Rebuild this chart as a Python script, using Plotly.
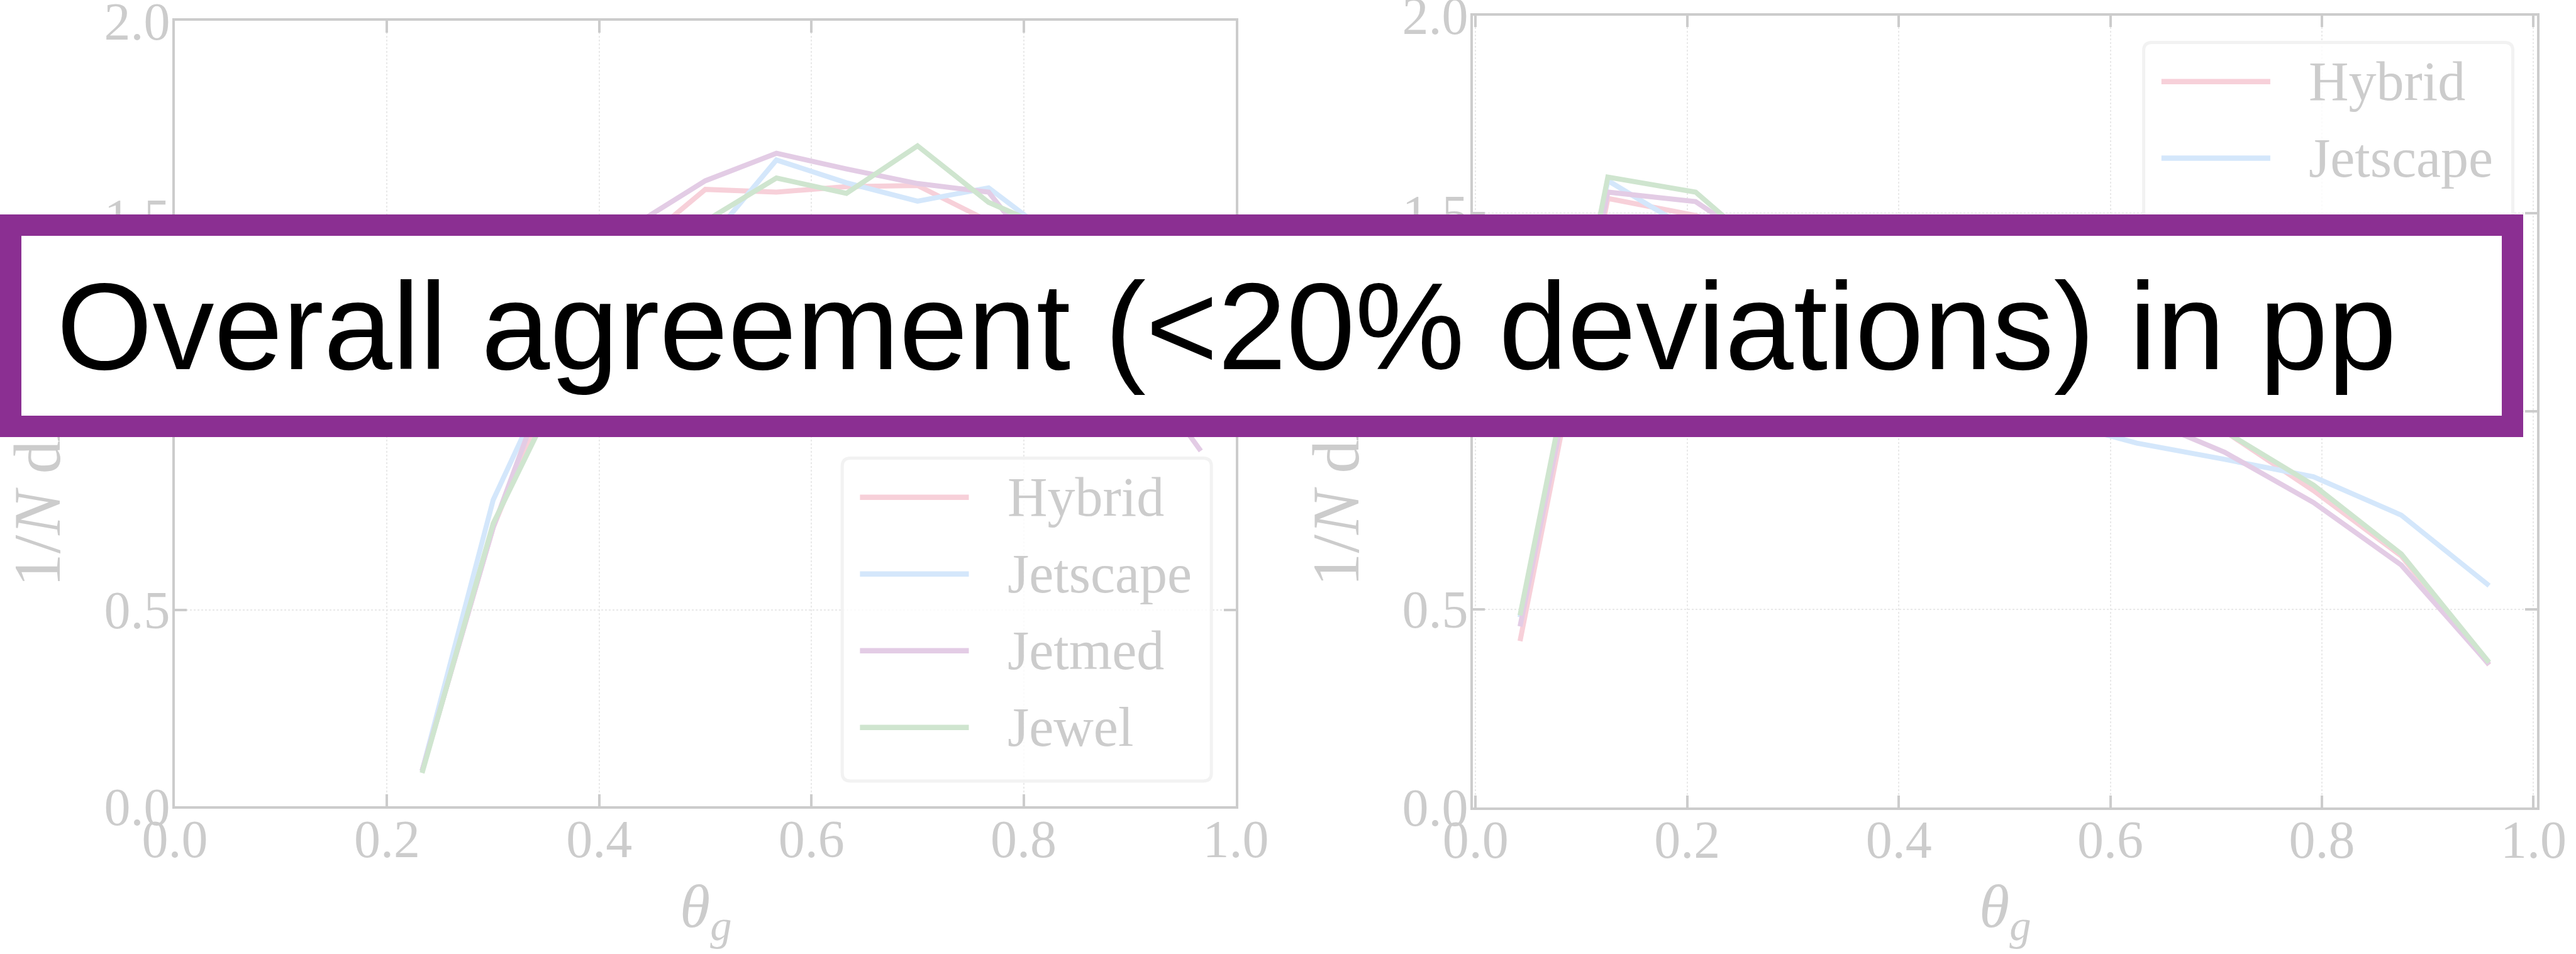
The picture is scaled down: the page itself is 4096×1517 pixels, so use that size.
import plotly.graph_objects as go

# Canvas size in pixels
W, H = 4096, 1517

# ---------------- data ----------------
series_names = ["Hybrid", "Jetscape", "Jetmed", "Jewel"]
series_colors = ["#f7d0d9", "#d4e7fb", "#e3cce5", "#cfe5cf"]

# left panel: bin centres and normalised distributions
theta_left = [0.233, 0.300, 0.367, 0.433, 0.500, 0.567, 0.633, 0.700, 0.767, 0.833, 0.900, 0.967]
hybrid_left = [0.09, 0.71, 1.15, 1.42, 1.571, 1.564, 1.578, 1.581, 1.49, 1.36, 1.20, 1.00]
jetscape_left = [0.09, 0.78, 1.17, 1.36, 1.43, 1.646, 1.588, 1.541, 1.575, 1.44, 1.28, 1.05]
jetmed_left = [0.09, 0.71, 1.20, 1.48, 1.593, 1.663, 1.623, 1.586, 1.564, 1.34, 1.155, 0.905]
jewel_left = [0.085, 0.72, 1.09, 1.30, 1.49, 1.600, 1.561, 1.682, 1.538, 1.46, 1.28, 1.02]

# right panel
theta_right = [0.042, 0.125, 0.208, 0.292, 0.375, 0.458, 0.542, 0.625, 0.708, 0.792, 0.875, 0.958]
hybrid_right = [0.42, 1.538, 1.495, 1.42, 1.33, 1.23, 1.13, 1.04, 0.95, 0.80, 0.635, 0.36]
jetscape_right = [0.48, 1.583, 1.45, 1.33, 1.20, 1.08, 0.98, 0.92, 0.879, 0.835, 0.738, 0.560]
jetmed_right = [0.457, 1.554, 1.530, 1.38, 1.28, 1.18, 1.08, 0.99, 0.897, 0.770, 0.612, 0.361]
jewel_right = [0.485, 1.592, 1.554, 1.36, 1.27, 1.17, 1.08, 1.00, 0.95, 0.814, 0.640, 0.366]

x_tickvals = [0.0, 0.2, 0.4, 0.6, 0.8, 1.0]
x_ticktext = ["0.0", "0.2", "0.4", "0.6", "0.8", "1.0"]
y_tickvals = [0.0, 0.5, 1.0, 1.5, 2.0]
y_ticktext = ["0.0", "0.5", "1.0", "1.5", "2.0"]

x_title = "<i>θ</i><sub><i>g</i></sub>"
y_title = "1/<i>N</i> d<i>N</i>/d<i>θ</i><sub><i>g</i></sub>"
banner_text = "Overall agreement (&lt;20% deviations) in pp"

# ---------------- style ----------------
GRAY = "#cccccc"
GRID = "#e9e9e9"
PURPLE = "#8b2f92"
SERIF = "Liberation Serif"
SANS = "Liberation Sans"


def px(x):
    return x / W


def py(y):
    return 1 - y / H


# plot areas in pixels (left, top, right, bottom)
left_box = (278.1, 33.3, 1965.0, 1282.1)
right_box = (2342.1, 24.7, 4033.5, 1283.8)


def axis_style():
    return dict(
        showline=True, linecolor=GRAY, linewidth=3.5, mirror="ticks",
        ticks="inside", ticklen=19, tickwidth=3.5, tickcolor=GRAY,
        showgrid=True, gridcolor=GRID, gridwidth=2, griddash="dot",
        zeroline=False, automargin=False, ticklabeloverflow="allow",
        tickfont=dict(family=SERIF, size=84, color=GRAY),
    )


fig = go.Figure()

panels = [
    ("x", "y", theta_left, [hybrid_left, jetscape_left, jetmed_left, jewel_left]),
    ("x2", "y2", theta_right, [hybrid_right, jetscape_right, jetmed_right, jewel_right]),
]
for xa, ya, xs, ys_list in panels:
    for name, color, ys in zip(series_names, series_colors, ys_list):
        fig.add_trace(go.Scatter(
            x=xs, y=ys, mode="lines", name=name, xaxis=xa, yaxis=ya,
            line=dict(color=color, width=8), showlegend=False, hoverinfo="skip",
        ))

layout = dict(
    width=W, height=H, margin=dict(l=0, r=0, t=0, b=0, autoexpand=False),
    paper_bgcolor="white", plot_bgcolor="white", showlegend=False,
)
for suffix, box, xrange in [("", left_box, [0.0, 1.0]), ("2", right_box, [-0.0025, 1.003])]:
    l, t, r, b = box
    xa = axis_style()
    xa.update(domain=[px(l), px(r)], range=xrange, tickvals=x_tickvals,
              ticktext=x_ticktext, anchor="y" + suffix, ticklabelstandoff=-24)
    ya = axis_style()
    ya.update(domain=[py(b), py(t)], range=[0, 2], tickvals=y_tickvals,
              ticktext=y_ticktext, anchor="x" + suffix, ticklabelstandoff=-13)
    layout["xaxis" + suffix] = xa
    layout["yaxis" + suffix] = ya

fig.update_layout(**layout)

shapes = []
annotations = []

# axis titles
for box, ytitle_x in [(left_box, 66.7), (right_box, 2131.0)]:
    l, t, r, b = box
    annotations.append(dict(
        xref="paper", yref="paper", x=px((l + r) / 2), y=py(1448),
        xanchor="center", yanchor="middle", text=x_title, showarrow=False,
        font=dict(family=SERIF, size=98, color=GRAY),
    ))
    annotations.append(dict(
        xref="paper", yref="paper", x=px(ytitle_x), y=py(935),
        xanchor="center", yanchor="bottom", text=y_title, textangle=-90,
        showarrow=False, font=dict(family=SERIF, size=106, color=GRAY),
    ))


def rounded_rect(x0, y0, x1, y1, r):
    pts = [
        ("M", (x0 + r, y0)), ("L", (x1 - r, y0)), ("Q", (x1, y0), (x1, y0 + r)),
        ("L", (x1, y1 - r)), ("Q", (x1, y1), (x1 - r, y1)), ("L", (x0 + r, y1)),
        ("Q", (x0, y1), (x0, y1 - r)), ("L", (x0, y0 + r)), ("Q", (x0, y0), (x0 + r, y0)),
    ]
    out = []
    for cmd, *coords in pts:
        out.append(cmd + " " + " ".join(f"{px(a):.6f},{py(b):.6f}" for a, b in coords))
    return " ".join(out) + " Z"


# legends (one per panel), anchored at their top-left corner
LEG_W, LEG_H = 587.0, 513.5
row_offsets = [62.3, 184.2, 306.2, 428.2]
for lx, ly in [(1339.2, 728.5), (3408.6, 67.4)]:
    shapes.append(dict(
        type="path", xref="paper", yref="paper",
        path=rounded_rect(lx, ly, lx + LEG_W, ly + LEG_H, 13),
        fillcolor="rgba(255,255,255,0.8)", line=dict(color="#f2f2f2", width=5),
        layer="above",
    ))
    for name, color, dy in zip(series_names, series_colors, row_offsets):
        shapes.append(dict(
            type="line", xref="paper", yref="paper",
            x0=px(lx + 28.2), x1=px(lx + 201.3), y0=py(ly + dy), y1=py(ly + dy),
            line=dict(color=color, width=8.5), layer="above",
        ))
        annotations.append(dict(
            xref="paper", yref="paper", x=px(lx + 260.5), y=py(ly + dy),
            xanchor="left", yanchor="middle", text=name, showarrow=False,
            font=dict(family=SERIF, size=88, color=GRAY),
        ))

# banner across both panels (drawn last so it sits on top)
annotations.append(dict(
    xref="paper", yref="paper", x=0, y=py(341.2), xanchor="left", yanchor="top",
    text=" ", showarrow=False, width=3944, height=286, bgcolor="white",
    bordercolor=PURPLE, borderwidth=34, borderpad=0,
))
annotations.append(dict(
    xref="paper", yref="paper", x=px(88), y=py(520), xanchor="left", yanchor="middle",
    text=banner_text, showarrow=False,
    font=dict(family=SANS, size=196, color="black"),
))

fig.update_layout(shapes=shapes, annotations=annotations)
fig.write_html("out.html")
